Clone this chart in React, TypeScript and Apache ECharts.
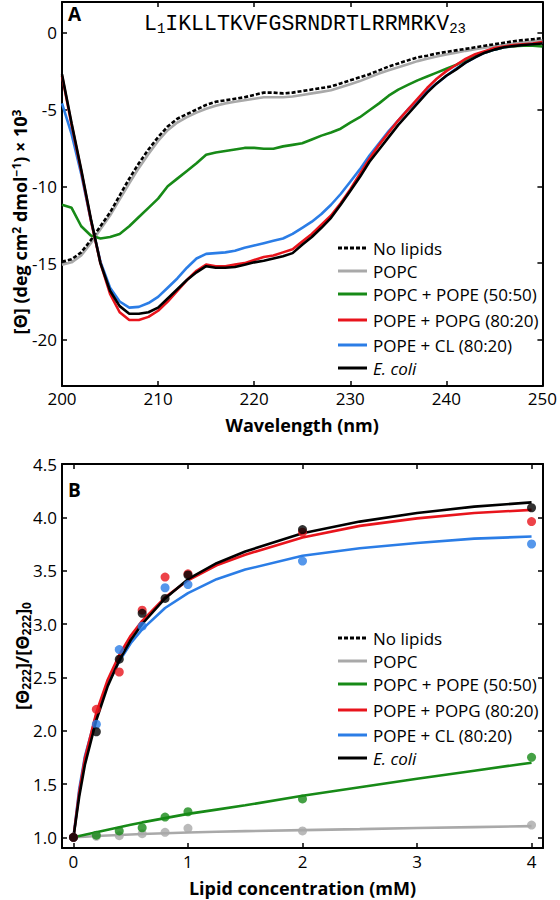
import React, { useEffect, useRef } from "react";
import * as echarts from "echarts";

// ---------- Panel A: CD spectra ----------
const wavelengths = [
  200, 201, 202, 203, 204, 205, 206, 207, 208, 209, 210, 211, 212, 213, 214, 215, 216, 217, 218, 219,
  220, 221, 222, 223, 224, 225, 226, 227, 228, 229, 230, 231, 232, 233, 234, 235, 236, 237, 238, 239,
  240, 241, 242, 243, 244, 245, 246, 247, 248, 249, 250,
];
const cdNoLipids = [
  -14.9, -14.75, -14.3, -13.5, -12.6, -11.7, -10.6, -9.5, -8.5, -7.6, -6.8, -6.1, -5.6, -5.3, -5.0, -4.7, -4.5, -4.4, -4.3, -4.2,
  -4.05, -3.9, -3.9, -3.95, -3.9, -3.8, -3.7, -3.6, -3.5, -3.3, -3.1, -2.9, -2.7, -2.45, -2.2, -2.0, -1.8, -1.6, -1.5, -1.35,
  -1.25, -1.15, -1.05, -0.95, -0.85, -0.75, -0.65, -0.55, -0.48, -0.42, -0.35,
];
const cdPOPC = [
  -15.1, -14.95, -14.5, -13.7, -12.8, -11.9, -10.85, -9.8, -8.8, -7.9, -7.05, -6.35, -5.85, -5.5, -5.2, -4.95, -4.75, -4.6, -4.5, -4.4,
  -4.3, -4.2, -4.2, -4.2, -4.15, -4.05, -3.95, -3.85, -3.75, -3.55, -3.35, -3.15, -2.9, -2.65, -2.45, -2.25, -2.05, -1.85, -1.7, -1.55,
  -1.42, -1.3, -1.18, -1.08, -0.98, -0.88, -0.78, -0.7, -0.62, -0.55, -0.5,
];
const cdPOPCPOPE = [
  -11.2, -11.4, -12.6, -13.2, -13.4, -13.3, -13.1, -12.6, -12.0, -11.4, -10.8, -10.0, -9.5, -9.0, -8.5, -7.95, -7.8, -7.7, -7.6, -7.5,
  -7.5, -7.55, -7.55, -7.4, -7.3, -7.2, -6.95, -6.7, -6.5, -6.25, -5.85, -5.5, -5.05, -4.6, -4.1, -3.7, -3.4, -3.1, -2.85, -2.6,
  -2.35, -2.1, -1.8, -1.5, -1.3, -1.1, -0.95, -0.88, -0.85, -0.84, -0.9,
];
const cdPOPEPOPG = [
  -2.8, -6.0, -9.0, -12.2, -15.0, -17.0, -18.2, -18.7, -18.7, -18.5, -18.1, -17.5, -16.8, -16.1, -15.5, -15.1, -15.2, -15.2, -15.1, -15.0,
  -14.8, -14.6, -14.5, -14.3, -14.1, -13.6, -13.1, -12.5, -11.9, -11.1, -10.2, -9.2, -8.2, -7.3, -6.5, -5.7, -5.0, -4.3, -3.6, -3.0,
  -2.5, -2.1, -1.7, -1.4, -1.2, -1.0, -0.9, -0.8, -0.75, -0.7, -0.6,
];
const cdPOPECL = [
  -4.6, -6.6, -9.2, -12.2, -14.9, -16.6, -17.5, -17.9, -17.85, -17.6, -17.2, -16.6, -16.0, -15.3, -14.7, -14.4, -14.35, -14.3, -14.2, -14.0,
  -13.85, -13.7, -13.55, -13.4, -13.1, -12.7, -12.3, -11.8, -11.2, -10.5, -9.7, -8.9, -8.0, -7.2, -6.4, -5.7, -5.0, -4.4, -3.8, -3.3,
  -2.8, -2.35, -1.95, -1.6, -1.3, -1.1, -0.95, -0.85, -0.78, -0.72, -0.65,
];
const cdEcoli = [
  -2.7, -5.9, -8.9, -12.1, -15.0, -16.8, -17.8, -18.3, -18.3, -18.2, -17.9, -17.3, -16.7, -16.1, -15.6, -15.2, -15.3, -15.3, -15.25, -15.1,
  -14.95, -14.85, -14.7, -14.55, -14.35, -13.8, -13.3, -12.7, -12.05, -11.2, -10.3, -9.4, -8.4, -7.6, -6.8, -6.0, -5.3, -4.6, -3.9, -3.3,
  -2.8, -2.4, -1.95, -1.6, -1.3, -1.1, -0.95, -0.87, -0.8, -0.75, -0.7,
];

// ---------- Panel B: titration ----------
const concDots = [0, 0.2, 0.4, 0.6, 0.8, 1, 2, 4];
const dotsPOPC = [1.0, 1.01, 1.016, 1.034, 1.047, 1.084, 1.06, 1.115];
const dotsPOPCPOPE = [1.0, 1.02, 1.06, 1.09, 1.19, 1.24, 1.36, 1.75];
const dotsPOPEPOPG = [1.0, 2.2, 2.55, 3.13, 3.44, 3.47, 3.86, 3.96];
const dotsPOPECL = [1.0, 2.06, 2.76, 2.98, 3.34, 3.37, 3.59, 3.75];
const dotsEcoli = [1.0, 1.99, 2.67, 3.1, 3.24, 3.46, 3.885, 4.09];

const concFit = [0, 0.05, 0.1, 0.2, 0.3, 0.4, 0.5, 0.6, 0.8, 1, 1.25, 1.5, 2, 2.5, 3, 3.5, 4];
const fitPOPC = [1.0, 1.003, 1.006, 1.012, 1.017, 1.022, 1.027, 1.031, 1.038, 1.045, 1.052, 1.058, 1.068, 1.077, 1.087, 1.096, 1.105];
const fitPOPCPOPE = [1.0, 1.012, 1.024, 1.048, 1.072, 1.095, 1.118, 1.14, 1.18, 1.22, 1.26, 1.3, 1.39, 1.47, 1.55, 1.625, 1.7];
const fitPOPEPOPG = [1.0, 1.42, 1.74, 2.17, 2.48, 2.71, 2.89, 3.03, 3.25, 3.41, 3.55, 3.65, 3.81, 3.92, 3.99, 4.04, 4.07];
const fitPOPECL = [1.0, 1.45, 1.76, 2.15, 2.44, 2.65, 2.82, 2.95, 3.15, 3.29, 3.42, 3.51, 3.64, 3.71, 3.76, 3.8, 3.82];
const fitEcoli = [1.0, 1.38, 1.68, 2.1, 2.42, 2.66, 2.85, 3.0, 3.24, 3.42, 3.57, 3.68, 3.85, 3.96, 4.04, 4.1, 4.14];

// ---------- Ticks & labels ----------
const xTicksA = [200, 210, 220, 230, 240, 250];
const yTicksA = [-20, -15, -10, -5, 0];
const xTicksB = [0, 1, 2, 3, 4];
const yTicksB = [1.0, 1.5, 2.0, 2.5, 3.0, 3.5, 4.0, 4.5];
const legendNames = [
  "No lipids",
  "POPC",
  "POPC + POPE (50:50)",
  "POPE + POPG (80:20)",
  "POPE + CL (80:20)",
  "E. coli",
];

const COLORS = {
  none: "#000000",
  popc: "#a9a9a9",
  green: "#178a17",
  red: "#e8141c",
  blue: "#2b7de6",
  black: "#000000",
};
const legendColors = [COLORS.none, COLORS.popc, COLORS.green, COLORS.red, COLORS.blue, COLORS.black];

const FONT = "'Open Sans', 'Noto Sans', sans-serif";
const MONO = "'Liberation Mono', 'DejaVu Sans Mono', monospace";

const zip = (xs: number[], ys: number[]) => xs.map((x, i) => [x, ys[i]]);

function legendGraphics(rowYs: number[]) {
  const els: any[] = [];
  legendNames.forEach((name, i) => {
    const y = rowYs[i];
    els.push({
      type: "line",
      shape: { x1: 338, y1: y, x2: 367, y2: y },
      style: {
        stroke: legendColors[i],
        lineWidth: 3,
        lineDash: i === 0 ? [4, 2] : null,
      },
      silent: true,
    });
    els.push({
      type: "text",
      x: 373,
      y,
      style: {
        text: name,
        fill: "#000",
        font: `${i === 5 ? "italic " : ""}17px ${FONT}`,
        textVerticalAlign: "middle",
        textAlign: "left",
      },
      silent: true,
    });
  });
  return els;
}

export default function App() {
  const ref = useRef<HTMLDivElement>(null);

  useEffect(() => {
    if (!ref.current) return;
    const chart = echarts.init(ref.current, null, { renderer: "svg" });

    const axisLine = { show: true, onZero: false, lineStyle: { color: "#000", width: 2 } };
    const tickStyle = { show: true, inside: true, length: 5, lineStyle: { color: "#000", width: 1.5 } };
    const labelStyle = { color: "#000", fontSize: 17, fontFamily: FONT, lineHeight: 17 };
    const nameStyle = { color: "#000", fontSize: 18, fontWeight: "bold", fontFamily: FONT, lineHeight: 18 };

    const lineSeries = (name: string, xs: number[], ys: number[], color: string, xi: number, yi: number, dash?: number[]) => ({
      type: "line",
      name,
      xAxisIndex: xi,
      yAxisIndex: yi,
      data: zip(xs, ys),
      symbol: "none",
      smooth: false,
      lineStyle: { color, width: 2.6, type: dash ? dash : "solid" },
      z: 3,
    });
    const dotSeries = (name: string, ys: number[], color: string) => ({
      type: "scatter",
      name,
      xAxisIndex: 2,
      yAxisIndex: 2,
      data: zip(concDots, ys),
      symbol: "circle",
      symbolSize: 9,
      itemStyle: { color },
      z: 4,
    });

    const option: any = {
      animation: false,
      backgroundColor: "#fff",
      grid: [
        { left: 62, top: 2, width: 481, height: 384, show: false },
        { left: 62, top: 464, width: 481, height: 384, show: false },
      ],
      xAxis: [
        {
          type: "value", gridIndex: 0, min: 200, max: 250, position: "bottom",
          axisLine, axisTick: { ...tickStyle, customValues: xTicksA },
          axisLabel: { ...labelStyle, margin: 4, customValues: xTicksA },
          splitLine: { show: false },
          name: "Wavelength (nm)", nameLocation: "middle", nameGap: 30,
          nameTextStyle: nameStyle,
        },
        {
          type: "value", gridIndex: 0, min: 200, max: 250, position: "top",
          axisLine, axisTick: { ...tickStyle, customValues: xTicksA },
          axisLabel: { show: false }, splitLine: { show: false },
        },
        {
          type: "value", gridIndex: 1, min: -0.1, max: 4.1, position: "bottom",
          axisLine, axisTick: { ...tickStyle, customValues: xTicksB },
          axisLabel: { ...labelStyle, margin: 5, customValues: xTicksB },
          splitLine: { show: false },
          name: "Lipid concentration (mM)", nameLocation: "middle", nameGap: 31,
          nameTextStyle: nameStyle,
        },
        {
          type: "value", gridIndex: 1, min: -0.1, max: 4.1, position: "top",
          axisLine, axisTick: { ...tickStyle, customValues: xTicksB },
          axisLabel: { show: false }, splitLine: { show: false },
        },
      ],
      yAxis: [
        {
          type: "value", gridIndex: 0, min: -23, max: 2, position: "left",
          axisLine, axisTick: { ...tickStyle, customValues: yTicksA },
          axisLabel: { ...labelStyle, margin: 5, customValues: yTicksA },
          splitLine: { show: false },
        },
        {
          type: "value", gridIndex: 0, min: -23, max: 2, position: "right",
          axisLine, axisTick: { ...tickStyle, customValues: yTicksA },
          axisLabel: { show: false }, splitLine: { show: false },
        },
        {
          type: "value", gridIndex: 1, min: 0.9, max: 4.5, position: "left",
          axisLine, axisTick: { ...tickStyle, customValues: yTicksB },
          axisLabel: { ...labelStyle, margin: 5, customValues: yTicksB, formatter: (v: number) => v.toFixed(1) },
          splitLine: { show: false },
        },
        {
          type: "value", gridIndex: 1, min: 0.9, max: 4.5, position: "right",
          axisLine, axisTick: { ...tickStyle, customValues: yTicksB },
          axisLabel: { show: false }, splitLine: { show: false },
        },
      ],
      series: [
        lineSeries("POPC", wavelengths, cdPOPC, COLORS.popc, 0, 0),
        lineSeries("No lipids", wavelengths, cdNoLipids, COLORS.none, 0, 0, [4, 2]),
        lineSeries("POPC + POPE (50:50)", wavelengths, cdPOPCPOPE, COLORS.green, 0, 0),
        lineSeries("POPE + CL (80:20)", wavelengths, cdPOPECL, COLORS.blue, 0, 0),
        lineSeries("POPE + POPG (80:20)", wavelengths, cdPOPEPOPG, COLORS.red, 0, 0),
        lineSeries("E. coli", wavelengths, cdEcoli, COLORS.black, 0, 0),

        lineSeries("POPC fit", concFit, fitPOPC, COLORS.popc, 2, 2),
        lineSeries("POPC + POPE fit", concFit, fitPOPCPOPE, COLORS.green, 2, 2),
        lineSeries("POPE + CL fit", concFit, fitPOPECL, COLORS.blue, 2, 2),
        lineSeries("POPE + POPG fit", concFit, fitPOPEPOPG, COLORS.red, 2, 2),
        lineSeries("E. coli fit", concFit, fitEcoli, COLORS.black, 2, 2),
        dotSeries("POPC dots", dotsPOPC, COLORS.popc),
        dotSeries("POPC + POPE dots", dotsPOPCPOPE, COLORS.green),
        dotSeries("POPE + CL dots", dotsPOPECL, COLORS.blue),
        dotSeries("POPE + POPG dots", dotsPOPEPOPG, COLORS.red),
        dotSeries("E. coli dots", dotsEcoli, COLORS.black),
      ],
      graphic: [
        {
          type: "text", x: 68, y: 14,
          style: { text: "A", font: `bold 19px ${FONT}`, fill: "#000", textVerticalAlign: "middle" },
        },
        {
          type: "text", x: 68, y: 490,
          style: { text: "B", font: `bold 19px ${FONT}`, fill: "#000", textVerticalAlign: "middle" },
        },
        {
          type: "text", x: 144, y: 24,
          style: {
            text: "L{sub|1}IKLLTKVFGSRNDRTLRRMRKV{sub|23}",
            font: `21.5px ${MONO}`,
            fill: "#000",
            textVerticalAlign: "middle",
            rich: {
              sub: {
                fontSize: 14,
                fontFamily: MONO,
                verticalAlign: "bottom",
                padding: [9, 0, 0, 0],
              },
            },
          },
        },
        {
          type: "text", x: 20, y: 222, rotation: Math.PI / 2,
          style: {
            text: "[Θ] (deg cm{sup|2} dmol{sup|−1}) × 10{sup|3}",
            font: `bold 18px ${FONT}`,
            fill: "#000",
            textAlign: "center",
            textVerticalAlign: "middle",
            rich: {
              sup: { fontSize: 12, fontWeight: "bold", fontFamily: FONT, verticalAlign: "top", padding: [0, 0, 8, 0] },
            },
          },
        },
        {
          type: "text", x: 22, y: 656, rotation: Math.PI / 2,
          style: {
            text: "[Θ{sub|222}]/[Θ{sub|222}]{sub|0}",
            font: `bold 18px ${FONT}`,
            fill: "#000",
            textAlign: "center",
            textVerticalAlign: "middle",
            rich: {
              sub: { fontSize: 12, fontWeight: "bold", fontFamily: FONT, verticalAlign: "bottom", padding: [8, 0, 0, 0] },
            },
          },
        },
        ...legendGraphics([248, 271, 294, 320, 345, 368]),
        ...legendGraphics([638, 661, 684, 710, 735, 758]),
      ],
    };

    chart.setOption(option);
    return () => chart.dispose();
  }, []);

  return (
    <div
      ref={ref}
      style={{ position: "absolute", left: 0, top: 0, width: 560, height: 900, background: "#fff" }}
    />
  );
}
